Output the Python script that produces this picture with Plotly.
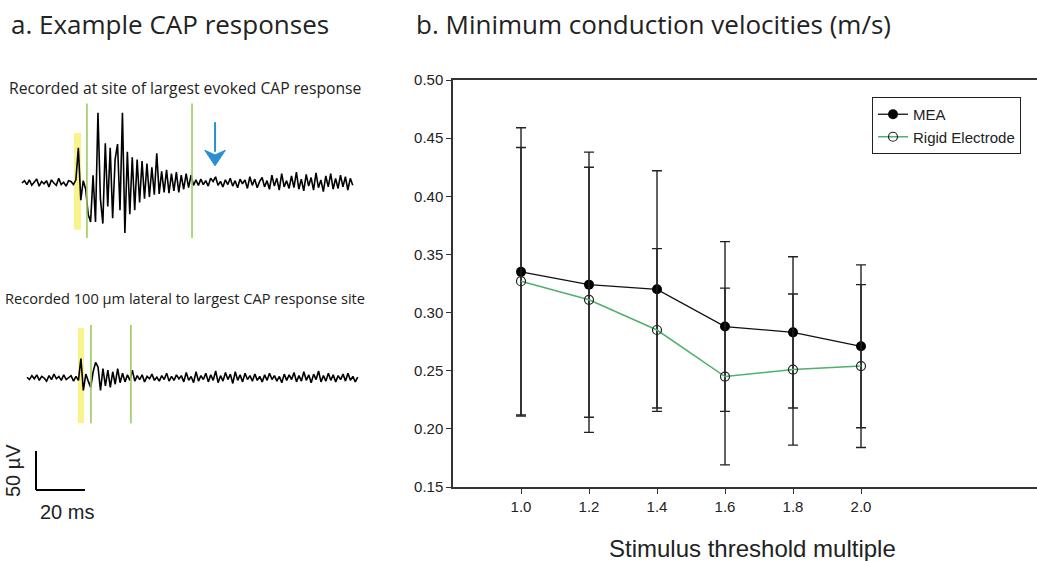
import plotly.graph_objects as go

# ---------------- data: panel b ----------------
stim_multiple = [1.0, 1.2, 1.4, 1.6, 1.8, 2.0]
mea_cv = [0.335, 0.324, 0.320, 0.288, 0.283, 0.271]
mea_err = [0.124, 0.114, 0.102, 0.073, 0.065, 0.070]
rigid_cv = [0.327, 0.311, 0.285, 0.245, 0.251, 0.254]
rigid_err = [0.115, 0.114, 0.070, 0.076, 0.065, 0.070]
y_ticks = [0.15, 0.20, 0.25, 0.30, 0.35, 0.40, 0.45, 0.50]

# ---------------- data: panel a traces (uV, 1 ms per sample) ----------------
trace1_pre = [0, 3, -2, 4, -3, 1, 5, -4, 2, -1, 3, -5, 4, 0, -3, 6, -2, 1, -4, 3, 2]
trace1_cap = [-2, 4, 45, -22, 3, -8, -40, -50, 10, -50, 90, -20, -52, 51, -30, 45, -45,
              30, 50, -35, 90, -64, 40, -40, 33, -35, 30, -25, 28, -20, 25, -18, 20, -15,
              38, -14, 15, -12, 17, -13, 12, -10, 14, -12, 10, -8, 12, -6, 10, -3]
trace1_post = [4, -3, 5, -2, 3, -4, 6, 2, 8, -3,
               2, -5, 4, -2, 6, -4, 3, -6, 5, -1,
               4, -7, 8, -3, 5, -6, 2, 7, -5, 3,
               -8, 10, -4, 6, -9, 12, -5, 3, -7, 9,
               -6, 14, -8, 5, -10, 11, -4, 7, -9, 13,
               -6, 4, -11, 9, -5, 12, -8, 6, -7, 10,
               -5, 8, -9, 6, -3]
trace2_pre = [1, -2, 3, -1, 4, -3, 2, 0, -4, 3, -2, 5, -1, 2, -3, 4, -2, 1, 3, -4, 2]
trace2_cap = [-3, 25, -16, 5, -4, -12, 8, 20, 14, -16, 12, -10, 10, -12, 8, -8, 12, -6,
              6, -5, 4, -3, 10, -4]
trace2_post = [3, -2, 4, -5, 2, -1, 5, -3, 1, -4,
               3, -2, 6, -4, 2, -3, 4, -1, 3, -5,
               7, -3, 2, -6, 8, -4, 3, -2, 6, -5,
               4, -3, 9, -6, 3, -4, 7, -2, 5, -7,
               8, -3, 4, -5, 6, -2, 3, -4, 5, -3,
               2, -5, 4, -3, 6, -2, 3, -4, 2, -6,
               5, -3, 4, -2, 7, -5, 3, -4, 8, -3,
               4, -6, 5, -2, 9, -5, 3, -4, 6, -3,
               4, -5, 3, -2, 5, -4, 6, -3, 2, -5, 1]

trace1 = trace1_pre + trace1_cap + trace1_post
trace2 = trace2_pre + trace2_cap + trace2_post
t1 = list(range(len(trace1)))
t2 = list(range(len(trace2)))

# markers on panel a (ms / uV)
yellow1 = (21.2, 24.1)
green1 = [26.5, 69.4]
yellow2 = (20.8, 23.3)
green2 = [26.1, 42.4]
arrow_t = 78.8
SCALE_MS, SCALE_UV = 20, 50

# ---------------- layout helpers ----------------
W, H = 1037, 561
PX_PER_MS = 2.45
PX_PER_UV = 0.78


def px(x):
    return x / W


def py(y):
    return (H - y) / H


def trace_axes(x0ms_px, base_px, top_px, bot_px, right_px=370):
    xr = [-x0ms_px / PX_PER_MS, (right_px - x0ms_px) / PX_PER_MS]
    yr = [-(bot_px - base_px) / PX_PER_UV, (base_px - top_px) / PX_PER_UV]
    return xr, yr, [py(bot_px), py(top_px)]


xr2, yr2, yd2 = trace_axes(22, 183, 95, 250)
xr3, yr3, yd3 = trace_axes(27, 378, 300, 530)

fig = go.Figure()

# panel b
fig.add_trace(go.Scatter(
    x=stim_multiple, y=mea_cv, name="MEA", mode="lines+markers",
    line=dict(color="#111111", width=1.3),
    marker=dict(symbol="circle", size=10, color="black"),
    error_y=dict(type="data", array=mea_err, color="#222222", thickness=1.4, width=5),
    xaxis="x", yaxis="y"))
fig.add_trace(go.Scatter(
    x=stim_multiple, y=rigid_cv, name="Rigid Electrode", mode="lines+markers",
    line=dict(color="#4fb06f", width=1.5),
    marker=dict(symbol="circle-open", size=9, color="#222222", line=dict(width=1.2)),
    error_y=dict(type="data", array=rigid_err, color="#222222", thickness=1.4, width=5),
    xaxis="x", yaxis="y"))

# panel a traces
fig.add_trace(go.Scatter(x=t1, y=trace1, mode="lines", showlegend=False,
                         line=dict(color="black", width=1.6), xaxis="x2", yaxis="y2"))
fig.add_trace(go.Scatter(x=t2, y=trace2, mode="lines", showlegend=False,
                         line=dict(color="black", width=1.6), xaxis="x3", yaxis="y3"))

shapes = []
shapes.append(dict(type="rect", xref="x2", yref="y2", x0=yellow1[0], x1=yellow1[1],
                   y0=-60, y1=64, fillcolor="#f8f38a", line=dict(width=0), layer="below"))
for g in green1:
    shapes.append(dict(type="line", xref="x2", yref="y2", x0=g, x1=g, y0=-70.5, y1=102,
                       line=dict(color="#9ccb5c", width=1.6)))
shapes.append(dict(type="rect", xref="x3", yref="y3", x0=yellow2[0], x1=yellow2[1],
                   y0=-58, y1=64, fillcolor="#f8f38a", line=dict(width=0), layer="below"))
for g in green2:
    shapes.append(dict(type="line", xref="x3", yref="y3", x0=g, x1=g, y0=-58, y1=68,
                       line=dict(color="#9ccb5c", width=1.6)))
# blue arrow
shapes.append(dict(type="line", xref="x2", yref="y2", x0=arrow_t, x1=arrow_t, y0=40, y1=78,
                   line=dict(color="#2a8fd0", width=2)))
hw = 4.2
shapes.append(dict(type="path", xref="x2", yref="y2",
                   path=f"M {arrow_t-hw},{42} L {arrow_t},{36} L {arrow_t+hw},{42} L {arrow_t},{22} Z",
                   fillcolor="#2a8fd0", line=dict(color="#2a8fd0", width=1)))
# scale bar
sb_t, sb_v = 3.67, -143.6
shapes.append(dict(type="line", xref="x3", yref="y3", x0=sb_t, x1=sb_t, y0=sb_v, y1=sb_v + SCALE_UV,
                   line=dict(color="black", width=2)))
shapes.append(dict(type="line", xref="x3", yref="y3", x0=sb_t, x1=sb_t + SCALE_MS, y0=sb_v, y1=sb_v,
                   line=dict(color="black", width=2)))

title_font = dict(family="Open Sans", size=26, color="#222222")
arial = "Liberation Sans, Arial"

annotations = [
    dict(text="a. Example CAP responses", x=px(9), y=py(24), xref="paper", yref="paper",
         xanchor="left", yanchor="middle", showarrow=False, font=title_font),
    dict(text="b. Minimum conduction velocities (m/s)", x=px(414), y=py(24), xref="paper",
         yref="paper", xanchor="left", yanchor="middle", showarrow=False, font=title_font),
    dict(text="Recorded at site of largest evoked CAP response", x=px(185), y=py(88),
         xref="paper", yref="paper", xanchor="center", yanchor="middle", showarrow=False,
         font=dict(family="Open Sans", size=15.7, color="#222222")),
    dict(text="Recorded 100 \u00b5m lateral to largest CAP response site", x=px(185), y=py(298),
         xref="paper", yref="paper", xanchor="center", yanchor="middle", showarrow=False,
         font=dict(family="Open Sans", size=14.6, color="#222222")),
    dict(text="20 ms", x=px(67), y=py(512), xref="paper", yref="paper", xanchor="center",
         yanchor="middle", showarrow=False, font=dict(family=arial, size=20, color="#222222")),
    dict(text="50 \u00b5V", x=px(13), y=py(471), xref="paper", yref="paper", xanchor="center",
         yanchor="middle", showarrow=False, textangle=-90,
         font=dict(family=arial, size=20, color="#222222")),
    dict(text="Stimulus threshold multiple", x=px(752), y=py(548), xref="paper", yref="paper",
         xanchor="center", yanchor="middle", showarrow=False,
         font=dict(family=arial, size=24, color="#222222")),
]

axis_line = "#333333"
fig.update_layout(
    width=W, height=H, margin=dict(l=0, r=0, t=0, b=0, autoexpand=False),
    paper_bgcolor="white", plot_bgcolor="white",
    shapes=shapes, annotations=annotations,
    xaxis=dict(domain=[px(453), 1.0], range=[0.8, 0.8 + (W - 453) / 340],
               tickvals=stim_multiple, tickformat=".1f", ticks="outside", ticklen=5,
               tickcolor=axis_line, showline=True, linecolor=axis_line, linewidth=1.5,
               mirror=True, showgrid=False, zeroline=False, automargin=False,
               tickfont=dict(family=arial, size=15, color="#222222")),
    yaxis=dict(domain=[py(487), py(80)], range=[0.15, 0.50], tickvals=y_ticks,
               tickformat=".2f", ticks="outside", ticklen=5, tickcolor=axis_line,
               showline=True, linecolor=axis_line, linewidth=1.5, showgrid=False,
               zeroline=False, automargin=False,
               tickfont=dict(family=arial, size=15, color="#222222")),
    xaxis2=dict(domain=[0, px(370)], range=xr2, visible=False, anchor="y2"),
    yaxis2=dict(domain=yd2, range=yr2, visible=False, anchor="x2"),
    xaxis3=dict(domain=[0, px(370)], range=xr3, visible=False, anchor="y3"),
    yaxis3=dict(domain=yd3, range=yr3, visible=False, anchor="x3"),
    legend=dict(x=px(872), y=py(97), xanchor="left", yanchor="top",
                bordercolor="#222222", borderwidth=1, bgcolor="white",
                font=dict(family=arial, size=15, color="#222222"),
                itemwidth=30, tracegroupgap=0),
    showlegend=True,
)

fig.write_html("out.html", config={"displayModeBar": False},
               post_script="document.body.style.margin='0';")
